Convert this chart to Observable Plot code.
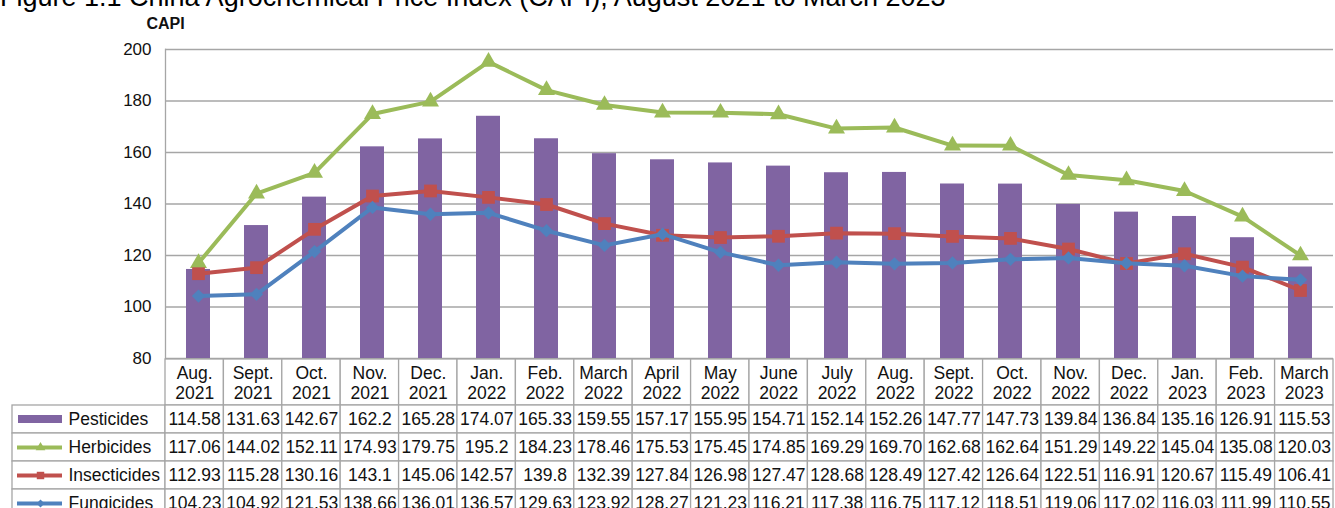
<!DOCTYPE html>
<html>
<head>
<meta charset="utf-8">
<script src="https://cdn.jsdelivr.net/npm/d3@7"></script>
<script src="https://cdn.jsdelivr.net/npm/@observablehq/plot@0.6"></script>
<style>
html, body { margin: 0; padding: 0; background: #fff; overflow: hidden; }
#wrap { position: relative; width: 1335px; height: 508px; overflow: hidden; font-family: "Liberation Sans", Arial, sans-serif; }
#title { position: absolute; left: 0; top: -16px; font-size: 27px; line-height: 27px; white-space: nowrap; color: #000; z-index: 2; }
#wrap svg { display: block; overflow: visible; }
</style>
</head>
<body>
<div id="wrap">
  <div id="title">Figure 1.1 China Agrochemical Price Index (CAPI), August 2021 to March 2023</div>
  <div id="chart"></div>
</div>
<script>
// ---- data ----
const months = ["Aug.\n2021", "Sept.\n2021", "Oct.\n2021", "Nov.\n2021", "Dec.\n2021", "Jan.\n2022", "Feb.\n2022",
  "March\n2022", "April\n2022", "May\n2022", "June\n2022", "July\n2022", "Aug.\n2022", "Sept.\n2022", "Oct.\n2022",
  "Nov.\n2022", "Dec.\n2022", "Jan.\n2023", "Feb.\n2023", "March\n2023"];
const pesticides = ["114.58","131.63","142.67","162.2","165.28","174.07","165.33","159.55","157.17","155.95","154.71","152.14","152.26","147.77","147.73","139.84","136.84","135.16","126.91","115.53"];
const herbicides = ["117.06","144.02","152.11","174.93","179.75","195.2","184.23","178.46","175.53","175.45","174.85","169.29","169.70","162.68","162.64","151.29","149.22","145.04","135.08","120.03"];
const insecticides = ["112.93","115.28","130.16","143.1","145.06","142.57","139.8","132.39","127.84","126.98","127.47","128.68","128.49","127.42","126.64","122.51","116.91","120.67","115.49","106.41"];
const fungicides = ["104.23","104.92","121.53","138.66","136.01","136.57","129.63","123.92","128.27","121.23","116.21","117.38","116.75","117.12","118.51","119.06","117.02","116.03","111.99","110.55"];
const seriesNames = ["Pesticides", "Herbicides", "Insecticides", "Fungicides"];
const yTicks = [80, 100, 120, 140, 160, 180, 200];
const yLabel = "CAPI";

// ---- styles / layout ----
const PURPLE = "#8064A2", GREEN = "#9BBB59", RED = "#C0504D", BLUE = "#4F81BD", GRID = "#a6a6a6", INK = "#111";
const W = 1335, LEFT = 165, RIGHT = 2, TABLE_LEFT = 12;
const COL_W = (W - LEFT - RIGHT) / months.length;
const LABEL_SPAN = (LEFT - TABLE_LEFT) / COL_W;
const px = p => p / COL_W;
const FONT = "Liberation Sans, Arial, sans-serif";
const TABLE_FS = 17.5;
const baseStyle = {fontFamily: FONT, fontSize: "16px", color: INK, background: "transparent", overflow: "visible"};

const valuesBy = {Pesticides: pesticides, Herbicides: herbicides, Insecticides: insecticides, Fungicides: fungicides};
const rows = months.map((m, i) => {
  const r = {month: m, i};
  for (const s of seriesNames) r[s] = +valuesBy[s][i];
  return r;
});
const lineSeries = [
  {key: "Herbicides", color: GREEN, symbol: "triangle", r: 6.3, lr: 3.6},
  {key: "Insecticides", color: RED, symbol: "square", r: 7.2, lr: 4.2},
  {key: "Fungicides", color: BLUE, symbol: "diamond2", r: 6.0, lr: 3.6}
];
const Y_MIN = yTicks[0], Y_MAX = yTicks[yTicks.length - 1];

// ---- chart ----
const chart = Plot.plot({
  width: W, height: 359,
  marginLeft: LEFT, marginRight: RIGHT, marginTop: 49, marginBottom: 1,
  style: baseStyle,
  x: {type: "band", domain: months, paddingInner: 0.59, paddingOuter: 0.295, axis: null},
  y: {domain: [Y_MIN, Y_MAX], axis: null},
  marks: [
    Plot.gridY(yTicks, {stroke: GRID, strokeOpacity: 1, strokeWidth: 1.3}),
    Plot.frame({anchor: "left", stroke: GRID, strokeWidth: 1.3}),
    Plot.barY(rows, {x: "month", y1: () => Y_MIN, y2: "Pesticides", fill: PURPLE}),
    ...lineSeries.flatMap(s => [
      Plot.line(rows, {x: "month", y: s.key, stroke: s.color, strokeWidth: 4}),
      Plot.dot(rows, {x: "month", y: s.key, fill: s.color, symbol: s.symbol, r: s.r})
    ]),
    Plot.axisY(yTicks, {tickSize: 0, tickPadding: 14, fontSize: 17, fill: INK}),
    Plot.text([yLabel], {frameAnchor: "top-left", dy: -21, lineAnchor: "bottom", textAnchor: "middle", fontWeight: "bold", fontSize: 16, fill: INK})
  ]
});

// ---- table header ----
const header = Plot.plot({
  width: W, height: 46,
  marginLeft: LEFT, marginRight: RIGHT, marginTop: 0, marginBottom: 0,
  style: baseStyle,
  x: {domain: [0, months.length], axis: null},
  y: {axis: null},
  marks: [
    Plot.barX(rows, {x1: "i", x2: d => d.i + 1, fill: "white", stroke: GRID, strokeWidth: 1.3}),
    Plot.text(rows, {x: d => d.i + 0.5, text: "month", frameAnchor: "middle", fontSize: TABLE_FS, lineHeight: 1.15, fill: INK})
  ]
});

// ---- table body ----
const cells = seriesNames.flatMap(s => valuesBy[s].map((v, i) => ({series: s, i, text: v})));
const body = Plot.plot({
  width: W, height: 113,
  marginLeft: LEFT, marginRight: RIGHT, marginTop: 0, marginBottom: 1,
  style: baseStyle,
  x: {domain: [0, months.length], axis: null},
  y: {type: "band", domain: seriesNames, padding: 0, axis: null},
  marks: [
    Plot.barX(seriesNames, {x1: () => -LABEL_SPAN, x2: () => 0, y: d => d, fill: "white", stroke: GRID, strokeWidth: 1.3}),
    Plot.barX(cells, {x1: "i", x2: d => d.i + 1, y: "series", fill: "white", stroke: GRID, strokeWidth: 1.3}),
    Plot.text(cells, {x: d => d.i + 0.5, y: "series", text: "text", fontSize: TABLE_FS, fill: INK}),
    Plot.barX(["Pesticides"], {x1: () => -LABEL_SPAN + px(6), x2: () => -LABEL_SPAN + px(50), y: d => d, fill: PURPLE, insetTop: 10, insetBottom: 10}),
    ...lineSeries.flatMap(s => [
      Plot.ruleY([s.key], {y: d => d, x1: () => -LABEL_SPAN + px(5), x2: () => -LABEL_SPAN + px(50), stroke: s.color, strokeWidth: 4}),
      Plot.dot([s.key], {y: d => d, x: () => -LABEL_SPAN + px(28), fill: s.color, symbol: s.symbol, r: s.lr})
    ]),
    Plot.text(seriesNames, {x: () => -LABEL_SPAN, y: d => d, dx: 56, textAnchor: "start", fontSize: TABLE_FS, fill: INK})
  ]
});

const host = document.getElementById("chart");
host.append(chart, header, body);
</script>
</body>
</html>
